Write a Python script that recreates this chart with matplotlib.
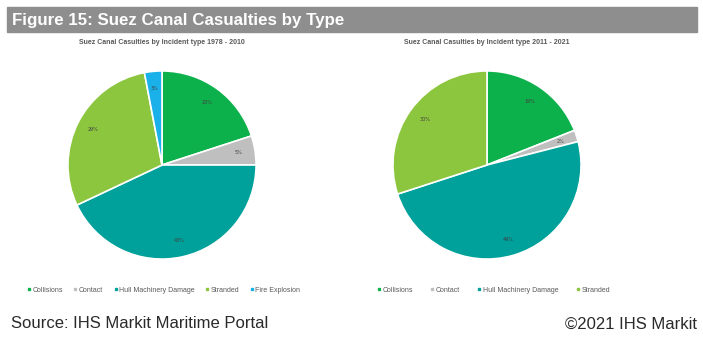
import matplotlib.pyplot as plt
from matplotlib.lines import Line2D
from matplotlib.patches import Rectangle

# data (share in %)
labels_old = ["Collisions", "Contact", "Hull Machinery Damage", "Stranded", "Fire Explosion"]
share_old = [20, 5, 43, 29, 3]
labels_new = ["Collisions", "Contact", "Hull Machinery Damage", "Stranded"]
share_new = [19, 2, 49, 30]
colors = ["#0db14b", "#bfbfbf", "#00a19a", "#8cc63f", "#1ab0ea"]

W, H = 703, 337
fig = plt.figure(figsize=(W / 100, H / 100), dpi=100)
fig.patch.set_facecolor("white")

def px(x, y, w, h):
    # pixel box (from top-left) to figure fraction
    return [x / W, 1 - (y + h) / H, w / W, h / H]

# gray header bar
fig.patches.append(Rectangle((7 / W, 1 - 32 / H), 690 / W, 25 / H,
                             transform=fig.transFigure, color="#8e8e8e", zorder=0))
fig.text(12 / W, 1 - 20.5 / H, "Figure 15: Suez Canal Casualties by Type",
         family="Liberation Sans", fontweight="bold",
         fontsize=12.2, color="white", va="center", ha="left")

def draw_pie(cx, title, share, labs):
    r = 95
    ax = fig.add_axes(px(cx - r, 165 - r, 2 * r, 2 * r))
    ax.pie(share, colors=colors[:len(share)], startangle=90, counterclock=False,
           autopct="%d%%", pctdistance=0.82,
           wedgeprops=dict(edgecolor="white", linewidth=1.2),
           textprops=dict(fontsize=3.5, color="#404040"))
    ax.set_xlim(-1.01, 1.01)
    ax.set_ylim(-1.01, 1.01)
    ax.set_aspect("equal")
    fig.text(cx / W, 1 - 42 / H, title, family="Liberation Sans", fontweight="bold",
             fontsize=5, color="#595959", ha="center", va="center")
    handles = [Line2D([], [], marker="s", ls="", markersize=2, color=c)
               for c in colors[:len(labs)]]
    return handles

h1 = draw_pie(162, "Suez Canal Casulties by Incident type 1978 - 2010", share_old, labels_old)
h2 = draw_pie(487, "Suez Canal Casulties by Incident type 2011 - 2021", share_new, labels_new)

for h, labs, x0, gap in [(h1, labels_old, 24, 1.6), (h2, labels_new, 374, 2.6)]:
    fig.legend(h, labs, loc="center left", bbox_to_anchor=(x0 / W, 1 - 290 / H),
               ncol=len(labs), frameon=False, handlelength=0.4, handletextpad=0.3,
               columnspacing=gap, borderpad=0,
               prop=dict(family="Liberation Sans", size=5), labelcolor="#595959")

fig.text(11 / W, 1 - 324 / H, "Source: IHS Markit Maritime Portal",
         family="Liberation Sans", fontsize=12, color="#2a2a2a", va="center")
fig.text(697 / W, 1 - 324 / H, "\u00a92021 IHS Markit",
         family="Liberation Sans", fontsize=12, color="#2a2a2a", va="center", ha="right")

fig.savefig("out.png", dpi=100)
